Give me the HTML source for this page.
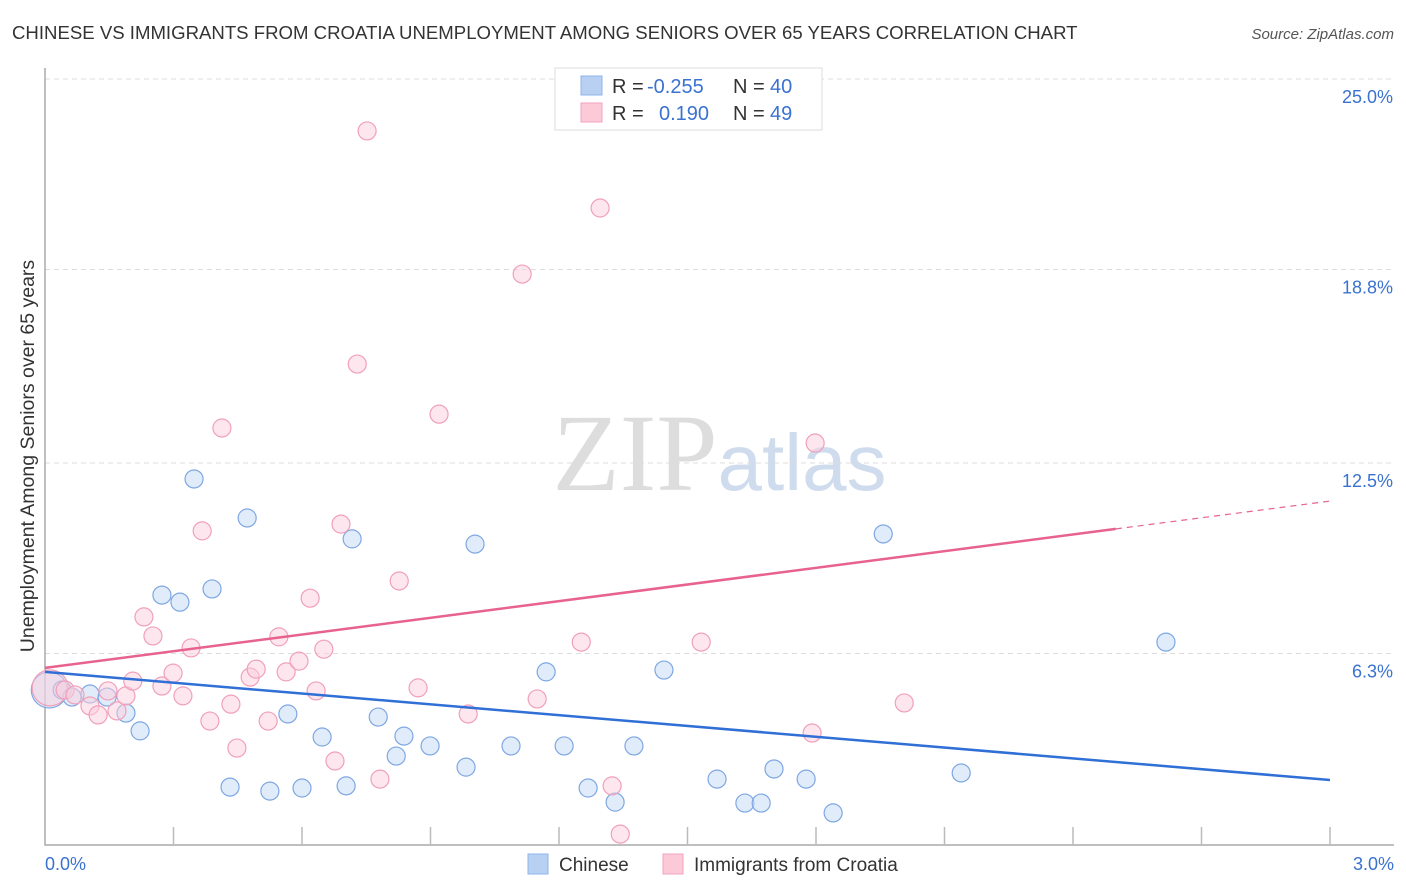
<!DOCTYPE html>
<html><head><meta charset="utf-8"><style>
body{margin:0;background:#fff;font-family:"Liberation Sans",sans-serif;}
#wrap{position:relative;width:1406px;height:892px;overflow:hidden}
</style></head><body>
<div id="wrap">
<svg id="chart" width="1406" height="892" style="position:absolute;left:0;top:0">
<text x="12" y="39" font-size="18.6" fill="#333">CHINESE VS IMMIGRANTS FROM CROATIA UNEMPLOYMENT AMONG SENIORS OVER 65 YEARS CORRELATION CHART</text>
<text x="1394" y="39" font-size="15" fill="#555" font-style="italic" text-anchor="end">Source: ZipAtlas.com</text>
<text x="635" y="490" font-size="110" fill="#ddd" font-family="Liberation Serif,serif" text-anchor="middle">ZIP</text>
<text x="802" y="490" font-size="80" fill="#cfdcee" text-anchor="middle">atlas</text>
<text transform="translate(34,456) rotate(-90)" font-size="19.5" fill="#333" text-anchor="middle">Unemployment Among Seniors over 65 years</text>
<g id="grid"></g><g id="axes"></g><g id="pts"></g><g id="trend"></g>
<rect x="555" y="68" width="267" height="62" fill="#fff" stroke="#ddd"/>
<rect x="581" y="76" width="21" height="19" fill="#b8d1f3" stroke="#8fb3e8"/>
<rect x="581" y="103" width="21" height="19" fill="#fcc9d8" stroke="#f3a3bc"/>
<g font-size="20">
<text x="612" y="93" fill="#333">R =</text><text x="647" y="93" fill="#3a72d0">-0.255</text>
<text x="733" y="93" fill="#333">N =</text><text x="770" y="93" fill="#3a72d0">40</text></g>
<g font-size="20">
<text x="612" y="120" fill="#333">R =</text><text x="659" y="120" fill="#3a72d0">0.190</text>
<text x="733" y="120" fill="#333">N =</text><text x="770" y="120" fill="#3a72d0">49</text></g>
<rect x="528" y="854" width="20" height="20" fill="#b8d1f3" stroke="#8fb3e8"/>
<text x="559" y="871" font-size="19" fill="#333">Chinese</text>
<rect x="663" y="854" width="20" height="20" fill="#fcc9d8" stroke="#f3a3bc"/>
<text x="694" y="871" font-size="19" fill="#333">Immigrants from Croatia</text>
</svg>
</div>
<script>
const yTicks=[25.0,18.8,12.5,6.3];
const yTickLabels=["25.0%","18.8%","12.5%","6.3%"];
const xTickCount=10;
const blueX=[0.01,0.04,0.105,0.063,0.145,0.189,0.222,0.273,0.315,0.348,0.39,0.432,0.472,0.525,0.567,0.60,0.647,0.703,0.717,0.778,0.82,0.838,0.899,0.983,1.004,1.088,1.17,1.212,1.268,1.331,1.375,1.445,1.569,1.634,1.672,1.702,1.777,1.84,1.957,2.139,2.617];
const blueY=[5.11,5.11,4.98,4.88,4.88,4.36,3.78,8.20,7.97,11.98,8.40,1.95,10.71,1.82,4.33,1.92,3.58,1.99,10.03,4.23,2.96,3.61,3.29,2.60,9.86,3.29,5.70,3.29,1.92,1.46,3.29,5.76,2.21,1.43,1.43,2.54,2.21,1.11,10.19,2.41,6.67];
const pinkX=[0.012,0.047,0.07,0.105,0.124,0.147,0.168,0.189,0.205,0.231,0.252,0.273,0.299,0.322,0.341,0.367,0.385,0.413,0.434,0.448,0.479,0.493,0.521,0.546,0.563,0.593,0.619,0.633,0.651,0.677,0.691,0.729,0.752,0.782,0.827,0.871,0.92,0.988,1.114,1.149,1.252,1.296,1.324,1.343,1.532,1.791,1.798,2.006];
const pinkY=[5.18,5.11,4.95,4.59,4.30,5.08,4.43,4.92,5.40,7.49,6.87,5.24,5.66,4.92,6.48,10.29,4.10,13.64,4.65,3.22,5.53,5.79,4.10,6.84,5.70,6.05,8.10,5.08,6.44,2.80,10.51,15.72,23.31,2.21,8.66,5.18,14.09,4.33,18.65,4.82,6.67,20.80,1.99,0.42,6.67,3.71,13.15,4.69];
const blueTrend=[5.70,2.18];
const pinkTrend=[5.83,11.26];
const pinkSolidEnd=2.5;
const NS="http://www.w3.org/2000/svg";
const X0=45,X1=1330,Y0=847,PY=30.72;
const sx=v=>X0+(v/3)*(X1-X0);
const sy=v=>Y0-v*PY;
function mk(tag,attrs,parent){const e=document.createElementNS(NS,tag);for(const k in attrs)e.setAttribute(k,attrs[k]);parent.appendChild(e);return e;}
const grid=document.getElementById('grid'),axes=document.getElementById('axes'),pts=document.getElementById('pts'),tr=document.getElementById('trend');
yTicks.forEach((t,i)=>{
 const l=mk('line',{x1:X0,x2:1394,y1:sy(t),y2:sy(t),stroke:'#ddd','stroke-dasharray':'5,4'},grid);
 
 
 const tx=mk('text',{x:1393,y:sy(t)+24,'font-size':18,fill:'#3a72d0','text-anchor':'end'},grid);
 tx.textContent=yTickLabels[i];
 
 
});
const ax=mk('path',{d:`M${X0},68V845H1394`,stroke:'#aaa',fill:'none','stroke-width':1.5},axes);


for(let i=1;i<=xTickCount;i++){
 const x=X0+i*(X1-X0)/xTickCount;
 const t=mk('line',{x1:x,x2:x,y1:827,y2:845,stroke:'#bbb','stroke-width':1.5},axes);
 
 
}
[[0,'0.0%','start',45],[3,'3.0%','end',1394]].forEach(a=>{
 const t=mk('text',{x:a[3],y:870,'font-size':18,fill:'#3a72d0','text-anchor':a[2]},axes);
 t.textContent=a[1];
 
 
});
function dot(x,y,r,fill,stroke,name){
 const c=mk('circle',{cx:sx(x),cy:sy(y),r:r,fill:fill,stroke:stroke,'stroke-width':1.2,'fill-opacity':0.5},pts);
 
 
}
blueX.forEach((x,i)=>dot(x,blueY[i],i===0?18:9,'#c4d9f5','#7ea7e3','point-chinese'));
pinkX.forEach((x,i)=>dot(x,pinkY[i],i===0?18:9,'#fbcddb','#f0a0ba','point-croatia'));
const bl=mk('line',{x1:sx(0),y1:sy(blueTrend[0]),x2:sx(3),y2:sy(blueTrend[1]),stroke:'#2f6fd6','stroke-width':2.5},tr);


const pAt=x=>pinkTrend[0]+(pinkTrend[1]-pinkTrend[0])*x/3;
const pl=mk('line',{x1:sx(0),y1:sy(pinkTrend[0]),x2:sx(pinkSolidEnd),y2:sy(pAt(pinkSolidEnd)),stroke:'#e8628e','stroke-width':2.5},tr);


const pd=mk('line',{x1:sx(pinkSolidEnd),y1:sy(pAt(pinkSolidEnd)),x2:sx(3),y2:sy(pinkTrend[1]),stroke:'#e8628e','stroke-width':1.2,'stroke-dasharray':'6,5'},tr);


</script>
</body></html>
